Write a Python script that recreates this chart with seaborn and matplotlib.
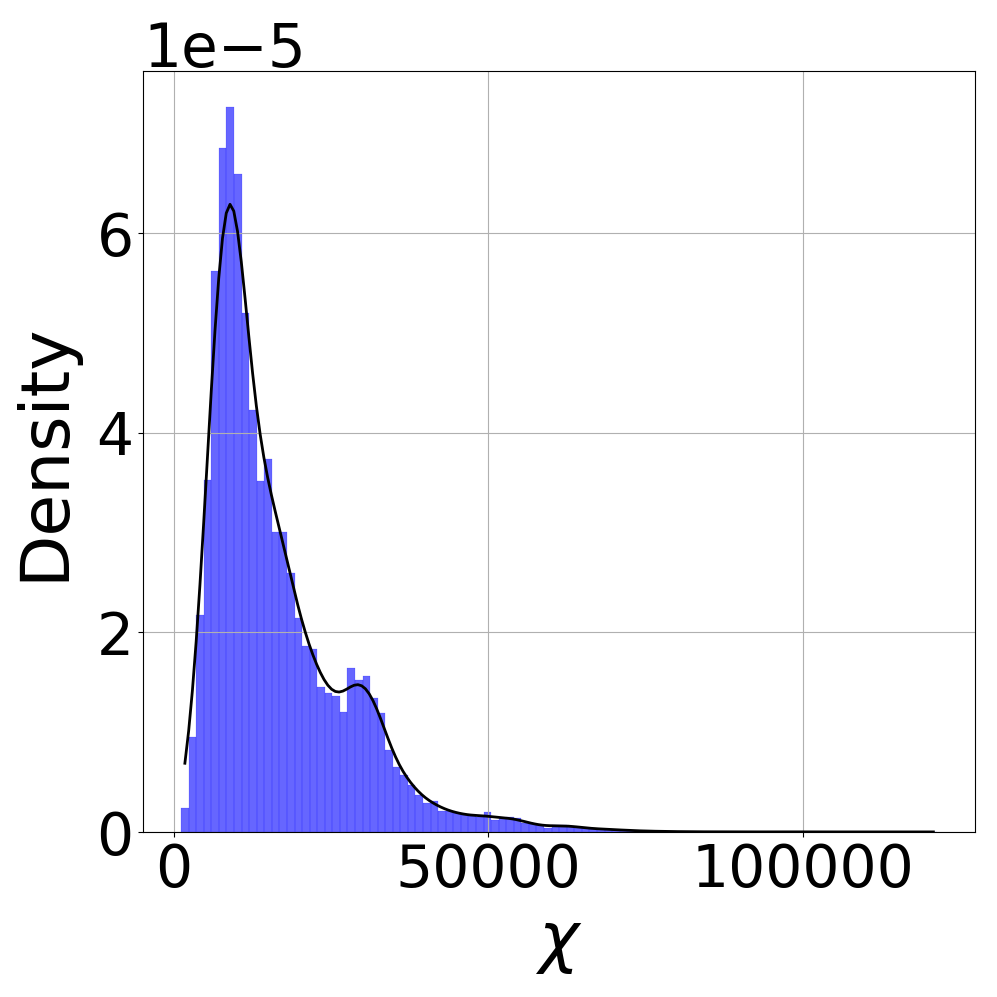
import numpy as np
import pandas as pd
import matplotlib
matplotlib.use("Agg")
import matplotlib.pyplot as plt
import seaborn as sns

# histogram: 100 equal bins from x_min to x_max,
# bar heights are densities in units of 1e-5
x_min = 1173
x_max = 121400
density_e5 = [
    0.24, 0.95, 2.17, 3.52, 5.61, 6.84, 7.25, 6.58, 5.19, 4.22,
    3.51, 3.73, 3.00, 3.00, 2.59, 2.14, 1.86, 1.83, 1.45, 1.39,
    1.36, 1.20, 1.64, 1.52, 1.56, 1.34, 1.19, 0.82, 0.65, 0.57,
    0.47, 0.37, 0.29, 0.31, 0.21, 0.21, 0.19, 0.17, 0.16, 0.15,
    0.20, 0.12, 0.14, 0.15, 0.14, 0.09, 0.08, 0.07, 0.04, 0.07,
    0.07, 0.06, 0.05, 0.04, 0.03, 0.03, 0.03, 0.02, 0.02, 0.015,
    0.01, 0.01, 0.008, 0.006, 0.005, 0.004, 0.003, 0.003, 0.002, 0.002,
    0.002, 0.002, 0.001, 0.001, 0.001, 0.001, 0.001, 0.001, 0.002, 0.003,
    0.002, 0.001, 0.001, 0.001, 0.001, 0.001, 0.001, 0.001, 0.001, 0.001,
    0.001, 0.001, 0.001, 0.001, 0.001, 0.001, 0.001, 0.001, 0.001, 0.002,
]

nbins = len(density_e5)
width = (x_max - x_min) / nbins
df = pd.DataFrame({
    "chi": x_min + width * (np.arange(nbins) + 0.5),
    "w": density_e5,
})

fig = plt.figure(figsize=(9.97, 9.97), dpi=100)
ax = fig.add_axes([143.3 / 997, 1 - 832 / 997, (975 - 143.3) / 997, (832 - 71) / 997])

sns.histplot(data=df, x="chi", weights="w", bins=nbins, binrange=(x_min, x_max),
             stat="density", color="blue", alpha=0.6,
             edgecolor=(0, 0, 1, 0.35), linewidth=0.3, ax=ax)
sns.kdeplot(data=df, x="chi", weights="w", cut=0, bw_method=0.16,
            color="black", linewidth=2, ax=ax)

ax.grid(True)
ax.set_xlabel(r"$\chi$", fontsize=49, labelpad=8)
ax.set_ylabel("Density", fontsize=49, labelpad=14)
ax.tick_params(labelsize=42)
ax.yaxis.get_offset_text().set_fontsize(43)

fig.savefig("out.png", dpi=100)
